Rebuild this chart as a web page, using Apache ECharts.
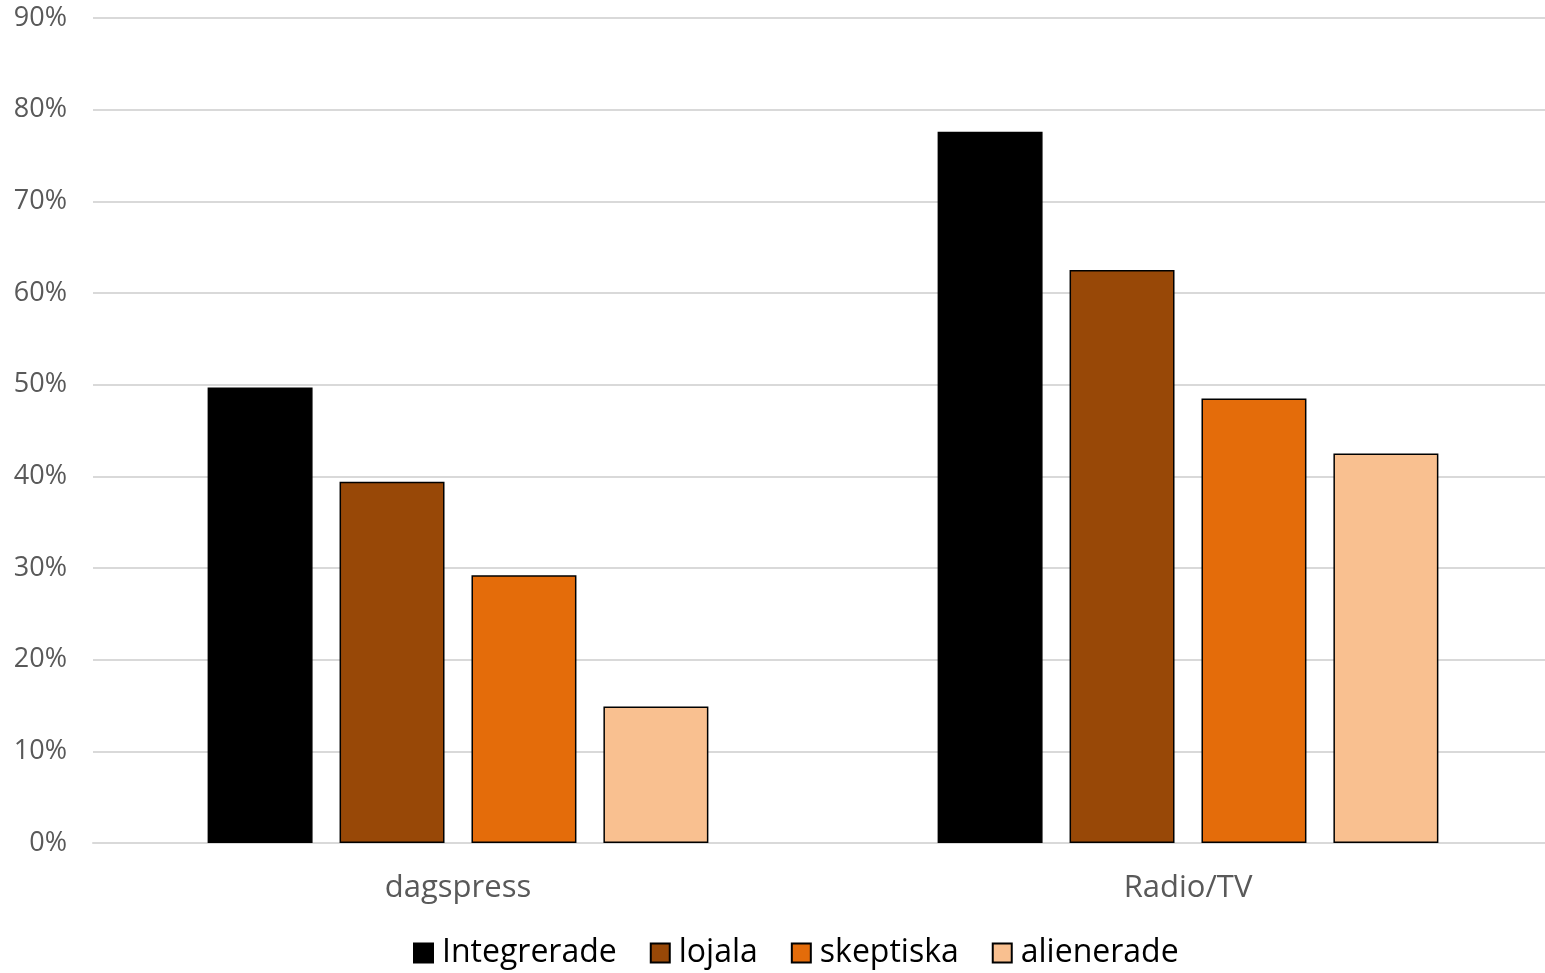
<!DOCTYPE html>
<html>
<head>
<meta charset="utf-8">
<script src="https://cdn.jsdelivr.net/npm/echarts@6/dist/echarts.min.js"></script>
<style>html,body{margin:0;padding:0;background:#fff}#c{width:1545px;height:973px}</style>
</head>
<body>
<div id="c"></div>
<script>
var categories = ['dagspress', 'Radio/TV'];
var seriesNames = ['Integrerade', 'lojala', 'skeptiska', 'alienerade'];
var integrerade = [49.7, 77.6];
var lojala = [39.4, 62.5];
var skeptiska = [29.2, 48.5];
var alienerade = [14.9, 42.5];
var colors = ['#000000', '#984807', '#E46C0A', '#F9C090'];
var values = [integrerade, lojala, skeptiska, alienerade];

var font = '"Open Sans", "Noto Sans", sans-serif';
var chart = echarts.init(document.getElementById('c'));
chart.setOption({
  animation: false,
  textStyle: { fontFamily: font },
  grid: { left: 93, width: 1460, top: 18, bottom: 130, containLabel: false, outerBoundsMode: 'none' },
  legend: {
    bottom: -1,
    left: 408,
    icon: 'rect',
    itemWidth: 19,
    itemHeight: 19,
    itemGap: 33,
    textStyle: { fontSize: 32, color: '#000', fontFamily: font, padding: [0, 0, 0, 4] },
    data: seriesNames
  },
  xAxis: {
    type: 'category',
    data: categories,
    axisLine: { lineStyle: { color: '#D9D9D9', width: 2 } },
    axisTick: { show: false },
    axisLabel: { fontSize: 31, color: '#595959', margin: 30, fontFamily: font }
  },
  yAxis: {
    type: 'value',
    min: 0, max: 90, interval: 10,
    axisLine: { show: false },
    axisTick: { show: false },
    splitLine: { lineStyle: { color: '#D9D9D9', width: 2 } },
    axisLabel: { fontSize: 27, color: '#595959', margin: 26, formatter: '{value}%', fontFamily: font }
  },
  series: seriesNames.map(function (n, i) {
    return {
      name: n,
      type: 'bar',
      data: values[i],
      barGap: '25.7%',
      barCategoryGap: '31.4%',
      itemStyle: { color: colors[i], borderColor: '#000', borderWidth: 1.5 }
    };
  })
});
</script>
</body>
</html>
